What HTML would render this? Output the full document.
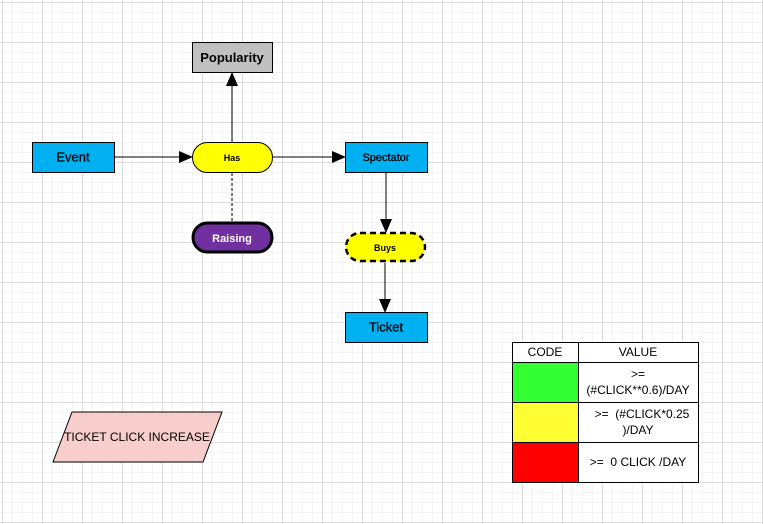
<!DOCTYPE html>
<html><head><style>
body{margin:0;width:763px;height:524px;overflow:hidden;background:#fff;
background-image:linear-gradient(#dcdcdc 1px,transparent 1px),linear-gradient(90deg,#dcdcdc 1px,transparent 1px),linear-gradient(#f3f3f3 1px,transparent 1px),linear-gradient(90deg,#f3f3f3 1px,transparent 1px);
background-size:40px 40px,40px 40px,10px 10px,10px 10px;background-position:2px 2px,2px 2px,2px 2px,2px 2px;font-family:"Liberation Sans",sans-serif;}
</style></head><body>
<svg width="763" height="524" style="position:absolute;left:0;top:0" font-family="Liberation Sans, sans-serif">
<defs><marker id="a" markerWidth="14" markerHeight="12" refX="13" refY="6" orient="auto" markerUnits="userSpaceOnUse"><path d="M0,0L14,6L0,12z" fill="#000"/></marker></defs>
<rect x="192.5" y="42.5" width="80" height="30" fill="#c0c0c0" stroke="#000"/>
<text x="232" y="62" text-anchor="middle" font-size="13" font-weight="bold">Popularity</text>
<line x1="232" y1="142" x2="232" y2="73" stroke="#000" marker-end="url(#a)"/>
<rect x="32.5" y="142.5" width="82" height="30" fill="#00b0f0" stroke="#000"/>
<text x="73" y="161.5" text-anchor="middle" font-size="13" stroke="#000" stroke-width="0.3">Event</text>
<line x1="115" y1="157" x2="192" y2="157" stroke="#000" marker-end="url(#a)"/>
<rect x="192.5" y="142.5" width="80" height="30" rx="15" fill="#ffff00" stroke="#000"/>
<text x="232" y="161" text-anchor="middle" font-size="9" font-weight="bold">Has</text>
<line x1="273" y1="157" x2="345" y2="157" stroke="#000" marker-end="url(#a)"/>
<rect x="345.5" y="142.5" width="82" height="30" fill="#00b0f0" stroke="#000"/>
<text x="386" y="161" text-anchor="middle" font-size="11" stroke="#000" stroke-width="0.3">Spectator</text>
<line x1="232" y1="173" x2="232" y2="222" stroke="#000" stroke-dasharray="3,2"/>
<rect x="193" y="223" width="79" height="29" rx="14.5" fill="#7030a0" stroke="#000" stroke-width="3"/>
<text x="232" y="242" text-anchor="middle" font-size="11" font-weight="bold" fill="#fff">Raising</text>
<line x1="386" y1="173" x2="386" y2="232" stroke="#000" marker-end="url(#a)"/>
<rect x="346" y="233" width="79" height="28" rx="14" fill="#ffff00" stroke="#000" stroke-width="2.5" stroke-dasharray="6,4"/>
<text x="385" y="251" text-anchor="middle" font-size="9" font-weight="bold">Buys</text>
<line x1="385" y1="263" x2="385" y2="312" stroke="#000" marker-end="url(#a)"/>
<rect x="345.5" y="312.5" width="82" height="30" fill="#00b0f0" stroke="#000"/>
<text x="386" y="331.5" text-anchor="middle" font-size="13" stroke="#000" stroke-width="0.3">Ticket</text>
<polygon points="53,462 72,412 222,412 203,462" fill="#f8cecc" stroke="#000"/>
<text x="137" y="441" text-anchor="middle" font-size="12">TICKET CLICK INCREASE</text>
<g stroke="#000">
<rect x="512.5" y="342.5" width="186" height="140" fill="#fff"/>
<rect x="512.5" y="362.5" width="66" height="40" fill="#33ff33"/>
<rect x="512.5" y="402.5" width="66" height="40" fill="#ffff33"/>
<rect x="512.5" y="442.5" width="66" height="40" fill="#ff0000"/>
<line x1="578.5" y1="342" x2="578.5" y2="482"/>
<line x1="512" y1="362.5" x2="698" y2="362.5"/>
<line x1="578" y1="402.5" x2="698" y2="402.5"/>
<line x1="578" y1="442.5" x2="698" y2="442.5"/>
</g>
<g font-size="12" text-anchor="middle">
<text x="545" y="356">CODE</text><text x="638" y="356">VALUE</text>
<text x="638" y="378">&gt;=</text><text x="638" y="394">(#CLICK**0.6)/DAY</text>
<text x="642" y="418" xml:space="preserve">&gt;=  (#CLICK*0.25</text><text x="638" y="434">)/DAY</text>
<text x="638" y="466" xml:space="preserve">&gt;=  0 CLICK /DAY</text>
</g>
</svg>
</body></html>
